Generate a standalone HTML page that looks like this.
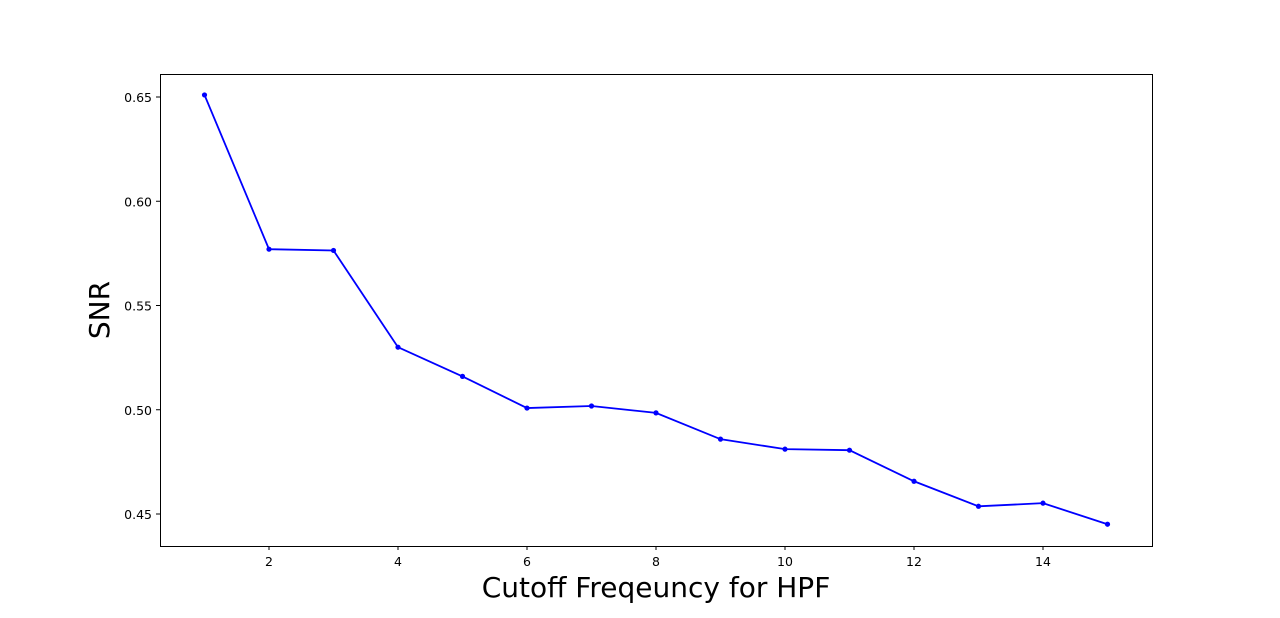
<!DOCTYPE html>
<html><head><meta charset="utf-8"><style>
body{margin:0;background:#fff;}
svg text{font-family:"DejaVu Sans","Liberation Sans",sans-serif;}
</style></head><body>
<svg id="chart" width="1280" height="613">
<rect x="160.5" y="74.5" width="992" height="472" fill="none" stroke="#000" stroke-width="1"/>
<g id="xt"></g>
<g id="yt"></g>
<g id="series"></g>
<text x="656" y="597" font-size="28" text-anchor="middle">Cutoff Freqeuncy for HPF</text>
<text transform="translate(109,310) rotate(-90)" font-size="28" text-anchor="middle">SNR</text>
</svg>
<script>
const cutoffs=[1,2,3,4,5,6,7,8,9,10,11,12,13,14,15];
const snr=[0.651,0.577,0.5764,0.530,0.516,0.5008,0.5018,0.4985,0.4859,0.4811,0.4806,0.4657,0.4537,0.4552,0.4451];
const xTicks=[2,4,6,8,10,12,14];
const yTicks=[0.45,0.50,0.55,0.60,0.65];
const NS="http://www.w3.org/2000/svg";
function X(v){return 204.5+(v-1)*64.5;}
function Y(v){return 97+(0.65-v)*2085;}
function mk(t,a,p){const e=document.createElementNS(NS,t);for(const k in a)e.setAttribute(k,a[k]);p.appendChild(e);return e;}
const xt=document.getElementById('xt'),yt=document.getElementById('yt'),s=document.getElementById('series');
xTicks.forEach(v=>{
 const l=mk('line',{x1:X(v),x2:X(v),y1:546,y2:550,stroke:'#000'},xt);
 
 
 const t=mk('text',{x:X(v),y:566,'font-size':12.5,'text-anchor':'middle'},xt);t.textContent=v;
 
 
});
yTicks.forEach(v=>{
 const l=mk('line',{x1:156,x2:160,y1:Y(v),y2:Y(v),stroke:'#000'},yt);
 
 
 const t=mk('text',{x:152,y:Y(v)+5,'font-size':12.5,'text-anchor':'end'},yt);t.textContent=v.toFixed(2);
 
 
});
const pl=mk('polyline',{points:cutoffs.map((c,i)=>X(c)+','+Y(snr[i])).join(' '),fill:'none',stroke:'#0000ff','stroke-width':1.8},s);


cutoffs.forEach((c,i)=>{
 const d=mk('circle',{cx:X(c),cy:Y(snr[i]),r:2.6,fill:'#0000ff'},s);
 
 
});
</script>
</body></html>
